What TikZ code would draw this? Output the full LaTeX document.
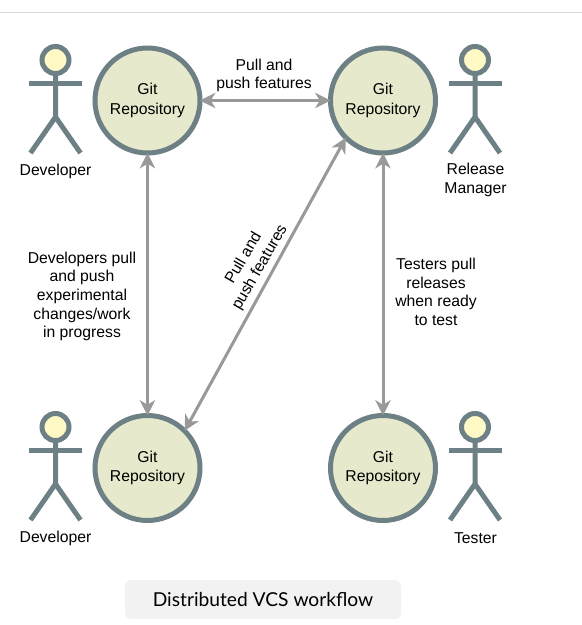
\documentclass[tikz,border=0pt]{standalone}
\usepackage{fontspec}
\setmainfont{Liberation Sans}
\newfontfamily\capfont{Lato}
\usetikzlibrary{arrows.meta}
\definecolor{stroke}{HTML}{6D8085}
\definecolor{repofill}{HTML}{E6E9CB}
\definecolor{headfill}{HTML}{FFF9C6}
\definecolor{link}{HTML}{999999}
\begin{document}
\begin{tikzpicture}[x=.75pt,y=-.75pt,
repo/.style={draw=stroke, fill=repofill, circle, line width=3.75pt, minimum size=78.75pt, inner sep=0pt, outer sep=0pt, align=center, font=\fontsize{11.8}{14.6}\selectfont},
lbl/.style={inner sep=0pt, align=center, font=\fontsize{11.8}{14}\selectfont},
lnk/.style={draw=link, line width=2.25pt, {Stealth[length=11.5pt,width=11.5pt,inset=3.5pt]}-{Stealth[length=11.5pt,width=11.5pt,inset=3.5pt]}},
limb/.style={draw=stroke, line width=3.75pt},
pics/actor/.style={code={
\draw[limb, fill=headfill] (0,-23) circle (13.5);
\draw[limb] (-26.5,0) -- (26.5,0);
\draw[limb] (0,-9.5) -- (0,34) -- (-25,70);
\draw[limb] (0,34) -- (25,70);
}}]
\useasboundingbox (0,0) rectangle (582,625);
\draw[draw=black!15, line width=.75pt] (0,12.5) -- (582,12.5);
%repositories
\foreach \i/\x/\y in {a/147.5/100.5,b/383/100.5,c/147.5/468,d/383/468}{\node[repo] (\i) at (\x,\y) {\raisebox{-1pt}{Git}\\\raisebox{-1pt}{Repository}};}
%actors
\foreach \x/\y in {55.5/83,475/83,55.5/450,475/450}{\pic at (\x,\y) {actor};}
\node[lbl] (dev1) at (55.5,171) {Developer};
\node[lbl] (rel) at (475.5,180) {Release\\Manager};
\node[lbl] (dev2) at (55.5,538) {Developer};
\node[lbl] (tst) at (475.5,538) {Tester};
%links between repositories
\draw[lnk] (a) -- (b);
\draw[lnk] (a) -- (c);
\draw[lnk] (b) -- (d);
\draw[lnk] (c.45) -- (b.225);
%link labels
\node[lbl] (ab) at (264,75.5) {Pull and\\push features};
\node[lbl] (ac) at (82,296.5) {Developers pull\\and push\\experimental\\changes/work\\in progress};
\node[lbl] (bd) at (436,292) {Testers pull\\releases\\when ready\\to test};
\node[lbl, rotate=60] (cb) at (252,263) {Pull and\\push features};
%caption
\node[fill=black!5, rounded corners=4.5pt, minimum width=207pt, minimum height=29pt, inner sep=0pt, font=\capfont\fontsize{14.4}{16}\selectfont] (cap) at (263,599.5) {Distributed VCS workflow};
\end{tikzpicture}
\end{document}
